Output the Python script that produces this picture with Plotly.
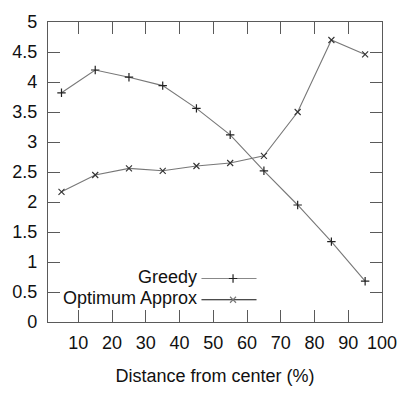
import plotly.graph_objects as go

distance = [5, 15, 25, 35, 45, 55, 65, 75, 85, 95]
greedy = [3.82, 4.20, 4.08, 3.94, 3.56, 3.12, 2.52, 1.95, 1.34, 0.68]
optimum = [2.17, 2.45, 2.56, 2.52, 2.60, 2.65, 2.77, 3.50, 4.70, 4.46]
x_ticks = [10, 20, 30, 40, 50, 60, 70, 80, 90, 100]
y_ticks = [0, 0.5, 1, 1.5, 2, 2.5, 3, 3.5, 4, 4.5, 5]
y_ticktext = ["0", "0.5", "1", "1.5", "2", "2.5", "3", "3.5", "4", "4.5", "5"]

FONT = "Liberation Sans, Arial, sans-serif"
FS = 18
AXIS = "#5a5a5a"
LINE = "#777777"
MARK = "#222222"

fig = go.Figure()
fig.add_trace(go.Scatter(
    x=distance, y=greedy, mode="lines+markers", name="Greedy",
    line=dict(color=LINE, width=1.1),
    marker=dict(symbol="cross-thin", size=6, line=dict(color=MARK, width=1.2)),
    showlegend=False))
fig.add_trace(go.Scatter(
    x=distance, y=optimum, mode="lines+markers", name="Optimum Approx",
    line=dict(color=LINE, width=1.1),
    marker=dict(symbol="x-thin", size=6, line=dict(color="#333333", width=1.1)),
    showlegend=False))

# legend samples (drawn on an overlay axis so the symbol sits right of the text)
fig.add_trace(go.Scatter(
    x=[0.4595, 0.6243], y=[0.145, 0.145], mode="lines", xaxis="x2", yaxis="y2",
    line=dict(color="#888888", width=1.1), showlegend=False, hoverinfo="skip"))
fig.add_trace(go.Scatter(
    x=[0.554], y=[0.145], mode="markers", xaxis="x2", yaxis="y2",
    marker=dict(symbol="cross-thin", size=6, line=dict(color=MARK, width=1.2)),
    showlegend=False, hoverinfo="skip"))
fig.add_trace(go.Scatter(
    x=[0.4595, 0.6243], y=[0.0742, 0.0742], mode="lines", xaxis="x2", yaxis="y2",
    line=dict(color="#111111", width=1.1), showlegend=False, hoverinfo="skip"))
fig.add_trace(go.Scatter(
    x=[0.554], y=[0.0742], mode="markers", xaxis="x2", yaxis="y2",
    marker=dict(symbol="x-thin", size=6, line=dict(color="#777777", width=1.1)),
    showlegend=False, hoverinfo="skip"))

fig.add_annotation(x=0.4509, y=0.1516, xref="paper", yref="paper", text="Greedy",
                   showarrow=False, xanchor="right", yanchor="middle",
                   font=dict(family=FONT, size=FS, color="#111111"))
fig.add_annotation(x=0.4509, y=0.0806, xref="paper", yref="paper", text="Optimum Approx",
                   showarrow=False, xanchor="right", yanchor="middle",
                   font=dict(family=FONT, size=FS, color="#111111"))

fig.update_layout(
    width=409, height=394,
    margin=dict(l=46, r=17, t=15, b=69),
    paper_bgcolor="white", plot_bgcolor="white",
    font=dict(family=FONT, size=FS, color="#111111"),
    xaxis=dict(range=[1, 100], tickvals=x_ticks, ticktext=[str(v) for v in x_ticks],
               ticks="inside", ticklen=12, tickcolor=AXIS, tickwidth=1,
               showline=True, linecolor=AXIS, linewidth=1.3, mirror="allticks",
               showgrid=False, zeroline=False, ticklabelstandoff=4,
               title=dict(text="Distance from center (%)", standoff=17,
                          font=dict(family=FONT, size=FS))),
    yaxis=dict(range=[0, 5], tickvals=y_ticks, ticktext=y_ticktext,
               ticks="inside", ticklen=12, tickcolor=AXIS, tickwidth=1,
               showline=True, linecolor=AXIS, linewidth=1.3, mirror="allticks",
               showgrid=False, zeroline=False, ticklabelstandoff=6),
    xaxis2=dict(range=[0, 1], overlaying="x", visible=False, fixedrange=True),
    yaxis2=dict(range=[0, 1], overlaying="y", visible=False, fixedrange=True),
)

fig.write_html("out.html")
